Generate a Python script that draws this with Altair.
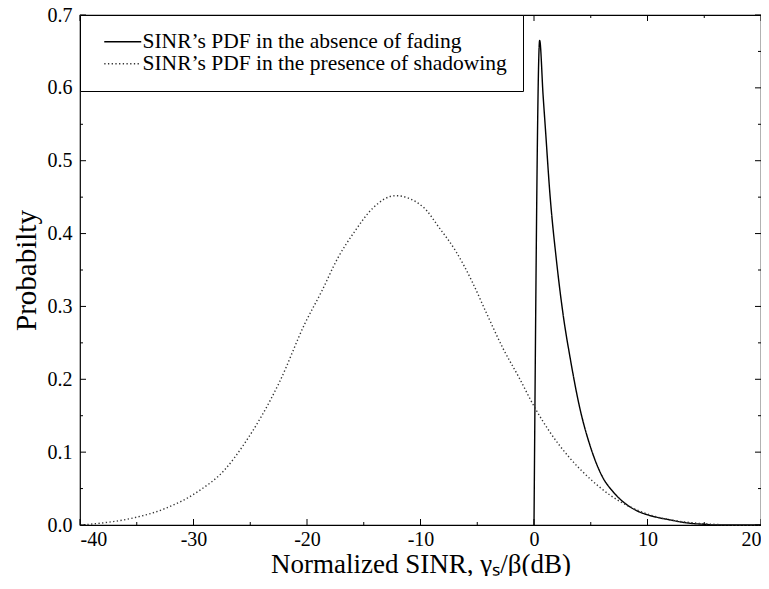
import altair as alt
import pandas as pd

# Series 1: SINR's PDF in the absence of fading
fade_x = [0, 0.5, 0.8, 1.0, 1.4, 2.0, 2.6, 3.2, 4.0, 5.0, 6.0, 7.0, 8.0, 9.0, 10, 11, 12, 13, 14, 15, 16, 20]
fade_y = [0, 0.665, 0.59, 0.545, 0.455, 0.36, 0.285, 0.228, 0.163, 0.106, 0.067, 0.045, 0.030, 0.020, 0.014,
          0.010, 0.007, 0.004, 0.002, 0.001, 0.0, 0.0]

# Series 2: SINR's PDF in the presence of shadowing
shad_x = [-40, -38.5, -35.5, -32.6, -29.6, -27.3, -25.5, -22.4, -20.2, -18.7, -17.3, -15.75, -14.2, -12.2,
          -9.8, -8.35, -6.9, -5.45, -4.25, -2.75, -1.27, 0, 1.38, 3.15, 4.9, 6.7, 8.45, 10.2, 12, 14, 16, 18, 20]
shad_y = [0.0, 0.002, 0.009, 0.022, 0.046, 0.075, 0.112, 0.197, 0.276, 0.321, 0.366, 0.404, 0.435, 0.452,
          0.437, 0.408, 0.376, 0.334, 0.293, 0.243, 0.201, 0.163, 0.128, 0.092, 0.064, 0.041, 0.025, 0.014,
          0.007, 0.003, 0.0008, 0.0, 0.0]

series_names = ["SINR\u2019s PDF in the absence of fading", "SINR\u2019s PDF in the presence of shadowing"]

x_major = [-40, -30, -20, -10, 0, 10, 20]
x_minor = [-35, -25, -15, -5, 5, 15]
y_major = [0.0, 0.1, 0.2, 0.3, 0.4, 0.5, 0.6, 0.7]
y_minor = [0.05, 0.15, 0.25, 0.35, 0.45, 0.55, 0.65]

df = pd.concat([
    pd.DataFrame({"x": fade_x, "y": fade_y, "series": series_names[0]}),
    pd.DataFrame({"x": shad_x, "y": shad_y, "series": series_names[1]}),
])

W, H = 681, 510
FONT = "Liberation Serif"

xs = alt.Scale(domain=[-40, 20], nice=False, zero=False)
ys = alt.Scale(domain=[0, 0.7], nice=False)
xaxis = alt.Axis(values=x_major, labelExpr="'' + datum.value", tickSize=0, domain=False, grid=False,
                 labelPadding=4, labelFontSize=20, labelFont=FONT, labelColor="black",
                 title="Normalized SINR, \u03b3\u209b/\u03b2(dB)", titleFont=FONT, titleFontSize=27,
                 titleFontWeight="normal", titleColor="black", titlePadding=2)
yaxis = alt.Axis(values=y_major, format=".1f", tickSize=0, domain=False, grid=False,
                 labelPadding=8, labelFontSize=20, labelFont=FONT, labelColor="black",
                 title="Probabilty", titleFont=FONT, titleFontSize=29, titleFontWeight="normal",
                 titleColor="black", titlePadding=6)

leg = alt.Legend(title=None, orient="top-left", offset=0, strokeColor="black", fillColor="white",
                 padding=16, cornerRadius=0, labelFont=FONT, labelFontSize=21.5, labelColor="black",
                 labelLimit=600, symbolType="M-2,0H2", symbolSize=342, symbolStrokeWidth=1.4,
                 symbolOffset=16, rowPadding=-2, labelOffset=9)

lines = alt.Chart(df).mark_line(strokeWidth=1.4, interpolate="monotone").encode(
    x=alt.X("x:Q", scale=xs, axis=xaxis),
    y=alt.Y("y:Q", scale=ys, axis=yaxis),
    color=alt.Color("series:N", scale=alt.Scale(domain=series_names, range=["#000000", "#333333"]),
                    legend=leg),
    strokeDash=alt.StrokeDash("series:N", scale=alt.Scale(domain=series_names, range=[[1, 0], [1.3, 2.4]]),
                              legend=leg),
    order="x:Q",
)

xmaj = pd.DataFrame({"x": x_major})
xmin = pd.DataFrame({"x": x_minor})
ymaj = pd.DataFrame({"y": y_major})
ymin = pd.DataFrame({"y": y_minor})

def xticks(d, L):
    b = alt.Chart(d).mark_rule(color="black", strokeWidth=1).encode(
        x=alt.X("x:Q", scale=xs, axis=xaxis), y=alt.value(H), y2=alt.value(H - L))
    t = alt.Chart(d).mark_rule(color="black", strokeWidth=1).encode(
        x=alt.X("x:Q", scale=xs, axis=xaxis), y=alt.value(0), y2=alt.value(L))
    return [b, t]

def yticks(d, L):
    l = alt.Chart(d).mark_rule(color="black", strokeWidth=1).encode(
        y=alt.Y("y:Q", scale=ys, axis=yaxis), x=alt.value(0), x2=alt.value(L))
    r = alt.Chart(d).mark_rule(color="black", strokeWidth=1).encode(
        y=alt.Y("y:Q", scale=ys, axis=yaxis), x=alt.value(W), x2=alt.value(W - L))
    return [l, r]

layers = [lines] + xticks(xmaj, 6) + xticks(xmin, 3) + yticks(ymaj, 6) + yticks(ymin, 3)

chart = alt.layer(*layers).properties(
    width=W, height=H,
    padding={"left": 72, "top": 7, "right": 0, "bottom": 51},
    autosize=alt.AutoSizeParams(type="none"),
    background="white",
).configure_view(
    stroke="black", strokeWidth=1.2
)

chart.save("out.html", embed_options={"renderer": "svg", "actions": False})
